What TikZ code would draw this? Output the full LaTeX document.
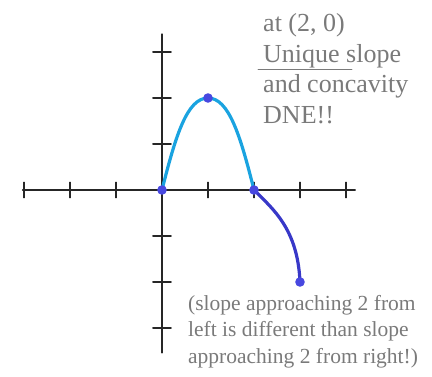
\documentclass[tikz,border=0pt]{standalone}
\usepackage{fontspec}
\setmainfont{Liberation Serif}
\definecolor{riseblue}{HTML}{1AA3E0}
\definecolor{fallblue}{HTML}{3838C8}
\definecolor{dotblue}{HTML}{4848E0}
\definecolor{notegray}{HTML}{7A7A7A}
\tikzset{
  every picture/.style={line cap=round, line join=round},
  axis/.style={line width=1.3pt, black!85},
  tick/.style={line width=1.1pt, black!85},
  rise/.style={riseblue, line width=3.2pt},
  fall/.style={fallblue, line width=3.2pt},
  dot/.style={fill=dotblue},
  % gray remarks beside the graph
  bignote/.style={anchor=base west, inner sep=0pt, text=notegray, font=\fontsize{26}{30}\selectfont},
  smallnote/.style={anchor=base west, inner sep=0pt, text=notegray, font=\fontsize{21.5}{26}\selectfont},
}

\begin{document}
\begin{tikzpicture}[x=46pt, y=46pt]
  \useasboundingbox (-162pt,-186pt) rectangle (270pt,190pt);
  % ---------------- axes and ticks
  \draw[axis] (-3.03,0) -- (4.2,0);
  \draw[axis] (0,-3.54) -- (0,3.39);
  \foreach \x in {-3,-2,-1,1,2,3,4}
    \draw[tick] (\x,-0.17) -- (\x,0.17);
  \foreach \y in {-3,-2,-1,1,2,3}
    \draw[tick] (-0.2,\y) -- (0.2,\y);
  % ---------------- the function
  \coordinate (O) at (0,0);
  \coordinate (peak) at (1,2);
  \coordinate (cusp) at (2,0);
  \coordinate (tail) at (3,-2);
  \draw[rise] (O) .. controls (0.3,1.2) and (0.55,2) .. (peak)
    .. controls (1.45,2) and (1.7,1.2) .. (cusp);
  \draw[fall] (cusp) .. controls (2.42,-0.42) and (2.95,-0.85) .. (tail);
  \foreach \p in {O,peak,cusp,tail}
    \fill[dot] (\p) circle (4.8pt);
  % ---------------- remarks
  \foreach \txt [count=\i from 0] in {{at (2, 0)}, {Unique slope}, {and concavity}, {DNE!!}}
    \node[bignote] (top\i) at (2.196,3.44-0.662*\i) {\txt};
  \draw[notegray, line width=0.9pt] (2.087,2.63) -- (4.13,2.63);
  \foreach \txt [count=\i from 0] in {{(slope approaching 2 from}, {left is different than slope}, {approaching 2 from right!)}}
    \node[smallnote] (low\i) at (0.565,-2.609-0.576*\i) {\txt};
\end{tikzpicture}
\end{document}
